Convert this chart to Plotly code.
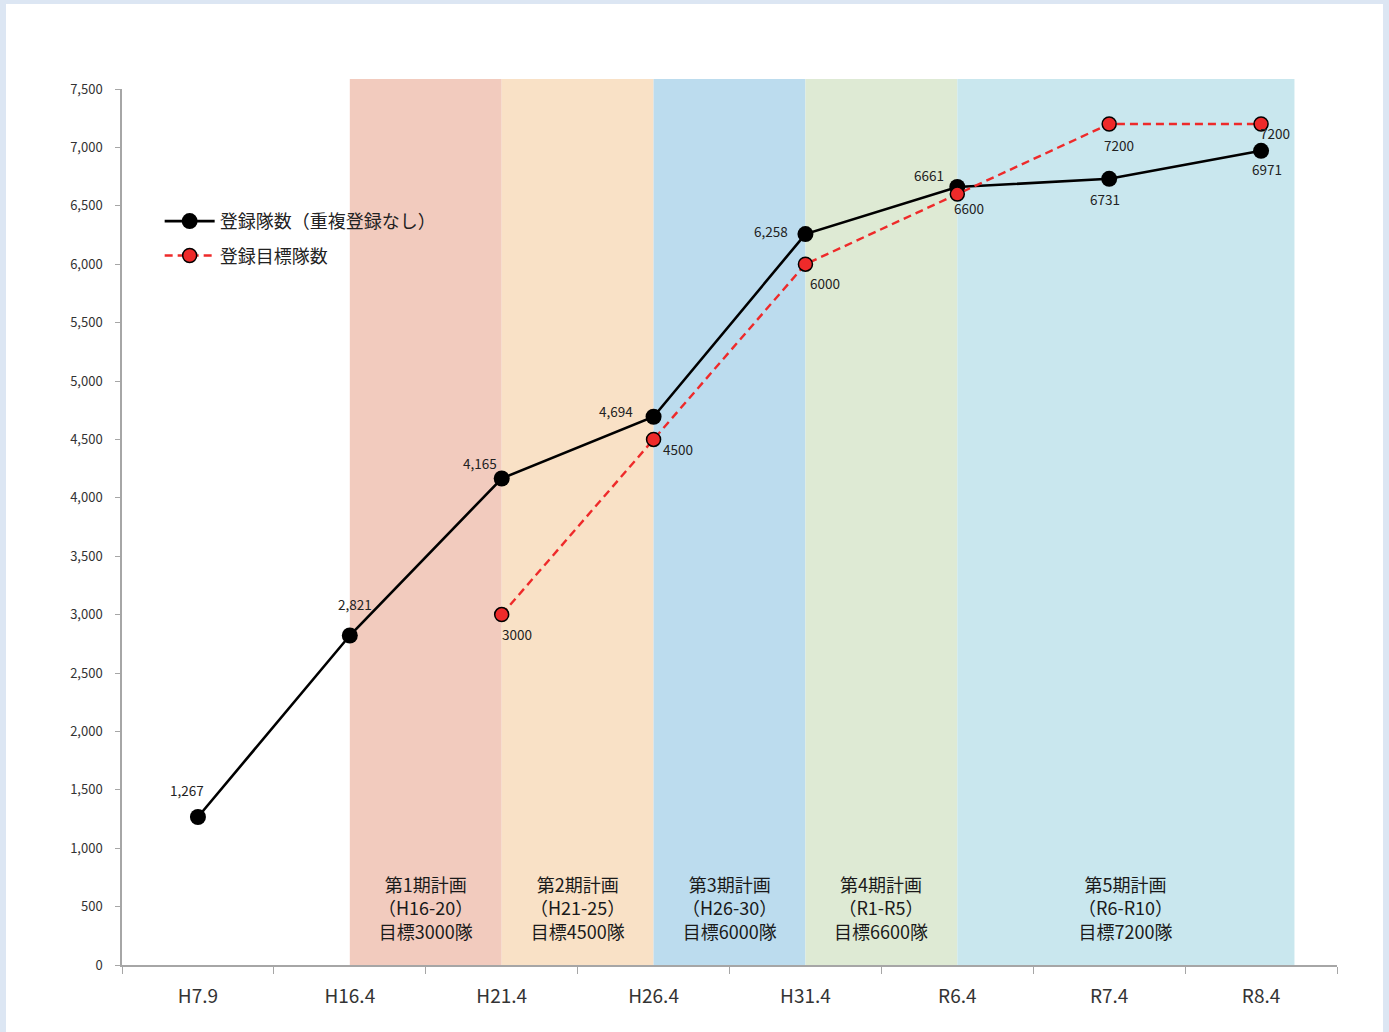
import plotly.graph_objects as go

# ---- data ----
categories = ["H7.9", "H16.4", "H21.4", "H26.4", "H31.4", "R6.4", "R7.4", "R8.4"]
registered = [1267, 2821, 4165, 4694, 6258, 6661, 6731, 6971]
registered_labels = ["1,267", "2,821", "4,165", "4,694", "6,258", "6661", "6731", "6971"]
target = [None, None, 3000, 4500, 6000, 6600, 7200, 7200]
target_labels = [None, None, "3000", "4500", "6000", "6600", "7200", "7200"]
series_names = ["登録隊数（重複登録なし）", "登録目標隊数"]

plan_names = ["第1期計画", "第2期計画", "第3期計画", "第4期計画", "第5期計画"]
plan_periods = ["（H16-20）", "（H21-25）", "（H26-30）", "（R1-R5）", "（R6-R10）"]
plan_targets = ["目標3000隊", "目標4500隊", "目標6000隊", "目標6600隊", "目標7200隊"]
plan_start = [1, 2, 3, 4, 5]
plan_end = [2, 3, 4, 5, 7.22]

# ---- styles ----
FONT = "Noto Sans CJK JP"
band_colors = ["#f2cbbe", "#f9e1c6", "#bcdcee", "#deead4", "#c9e7ee"]
reg_offsets = [(-11, 27), (5, 32), (-22, 16), (-38, 6), (-34, 3), (-28, 12), (-4, -20), (6, -18)]
tgt_offsets = [None, None, (15, -19), (24, -10), (20, -19), (12, -14), (10, -21), (14, -9)]

fig = go.Figure()

fig.add_trace(go.Scatter(
    x=categories, y=registered, name=series_names[0], mode="lines+markers",
    line=dict(color="black", width=2.6),
    marker=dict(size=16, color="black"),
    legendgroup="a",
))
fig.add_trace(go.Scatter(
    x=categories, y=target, name=series_names[1], mode="lines+markers",
    line=dict(color="#ee2a2a", width=2.4, dash="8px,5px"),
    marker=dict(size=14, color="#ee2a2a", line=dict(color="black", width=1.5)),
    legendgroup="b",
))

shapes = []
# page background panel
shapes.append(dict(type="rect", xref="paper", yref="paper",
                   x0=(6 - 122) / 1215, x1=(1383 - 122) / 1215,
                   y0=-0.1, y1=(965 - 4) / 876,
                   fillcolor="white", line=dict(width=0), layer="below"))
for s, e, c in zip(plan_start, plan_end, band_colors):
    shapes.append(dict(type="rect", xref="x", yref="paper", x0=s, x1=e,
                       y0=0, y1=1.0114, fillcolor=c, line=dict(width=0), layer="below"))

annotations = []
for i, (v, lab) in enumerate(zip(registered, registered_labels)):
    dx, dy = reg_offsets[i]
    annotations.append(dict(x=i, y=v, xref="x", yref="y", text=lab, showarrow=False,
                            xshift=dx, yshift=dy, font=dict(size=13.5, color="#222", family=FONT)))
for i, (v, lab) in enumerate(zip(target, target_labels)):
    if v is None:
        continue
    dx, dy = tgt_offsets[i]
    annotations.append(dict(x=i, y=v, xref="x", yref="y", text=lab, showarrow=False,
                            xshift=dx, yshift=dy, font=dict(size=13.5, color="#222", family=FONT)))
for s, e, n, p, t in zip(plan_start, plan_end, plan_names, plan_periods, plan_targets):
    annotations.append(dict(x=(s + e) / 2, y=(965 - 907) / 876, xref="x", yref="paper",
                            text=f"{n}<br>{p}<br>{t}", showarrow=False, yanchor="middle",
                            font=dict(size=18, color="#1a1a1a", family=FONT)))

fig.update_layout(
    width=1389, height=1032,
    margin=dict(l=122, r=52, t=89, b=67),
    paper_bgcolor="#dce6f3",
    plot_bgcolor="rgba(0,0,0,0)",
    font=dict(family=FONT, color="#333"),
    shapes=shapes,
    annotations=annotations,
    showlegend=True,
    legend=dict(x=0.031, y=0.870, xanchor="left", yanchor="top",
                bgcolor="rgba(0,0,0,0)", font=dict(size=18, color="#222", family=FONT),
                traceorder="grouped", tracegroupgap=8, itemwidth=50),
    xaxis=dict(type="category", range=[-0.5, 7.5], tickson="boundaries",
               showline=True, linecolor="#a6a6a6", linewidth=1.5,
               ticks="outside", ticklen=7, tickcolor="#a6a6a6",
               showgrid=False, zeroline=False,
               tickfont=dict(size=19, color="#333", family=FONT), ticklabelstandoff=13),
    yaxis=dict(range=[0, 7500], dtick=500, tickformat=",",
               showline=True, linecolor="#a6a6a6", linewidth=1.5,
               ticks="outside", ticklen=5, tickcolor="#a6a6a6",
               showgrid=False, zeroline=False,
               tickfont=dict(size=13, color="#333", family=FONT), ticklabelstandoff=10),
)

fig.write_html("out.html", config={"displayModeBar": False},
               post_script="document.body.style.margin='0';document.body.style.overflow='hidden';")
